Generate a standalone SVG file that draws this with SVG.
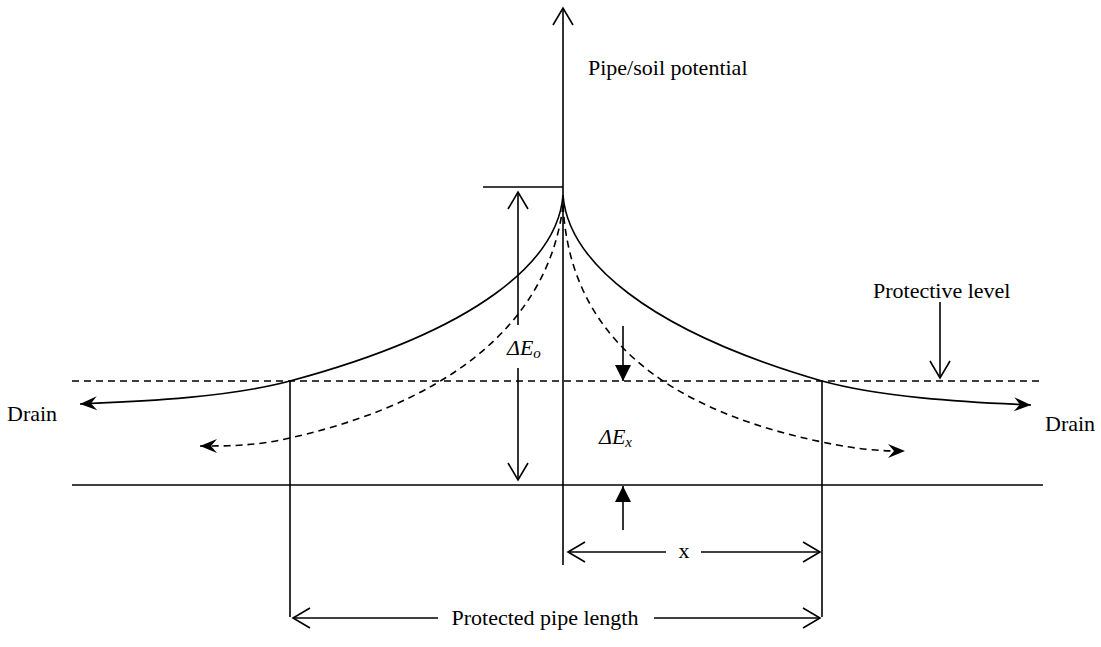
<svg xmlns="http://www.w3.org/2000/svg" width="1101" height="647" viewBox="0 0 1101 647">
<style>
.l{fill:none;stroke:#000;stroke-width:1.6}
.d{fill:none;stroke:#000;stroke-width:1.6;stroke-dasharray:7,5}
.t{font-family:"Liberation Serif",serif;font-size:22px;fill:#000}
.i{font-family:"Liberation Serif",serif;font-size:22px;font-style:italic;fill:#000}
</style>
<defs>
<marker id="open" markerUnits="userSpaceOnUse" markerWidth="24" markerHeight="24" viewBox="-20 -12 22 24" refX="0" refY="0" orient="auto-start-reverse">
<path d="M-17,-10 L0,0 L-17,10" fill="none" stroke="#000" stroke-width="1.6"/>
</marker>
<marker id="barb" markerUnits="userSpaceOnUse" markerWidth="24" markerHeight="24" viewBox="-20 -12 22 24" refX="0" refY="0" orient="auto">
<path d="M0,0 L-17,-7 L-11,0 L-17,7 Z" fill="#000"/>
</marker>
<marker id="tri" markerUnits="userSpaceOnUse" markerWidth="24" markerHeight="24" viewBox="-20 -12 22 24" refX="0" refY="0" orient="auto">
<path d="M0,0 L-16,-8 L-16,8 Z" fill="#000"/>
</marker>
</defs>
<g id="connectors">
<line class="l" x1="563" y1="565" x2="563" y2="8" marker-end="url(#open)"/>
<line class="l" x1="483" y1="187" x2="563" y2="187"/>
<line class="d" x1="72" y1="381" x2="1044" y2="381"/>
<line class="l" x1="72" y1="485" x2="1043" y2="485"/>
<line class="l" x1="290" y1="381" x2="290" y2="617"/>
<line class="l" x1="822" y1="381" x2="822" y2="617"/>
<line class="l" x1="518" y1="325" x2="518" y2="192" marker-end="url(#open)"/>
<line class="l" x1="518" y1="368" x2="518" y2="480" marker-end="url(#open)"/>
<line class="l" x1="623" y1="326" x2="623" y2="381" marker-end="url(#tri)"/>
<line class="l" x1="623" y1="530" x2="623" y2="486" marker-end="url(#tri)"/>
<line class="l" x1="940" y1="302" x2="940" y2="378" marker-end="url(#open)"/>
<line class="l" x1="666" y1="552" x2="568" y2="552" marker-end="url(#open)"/>
<line class="l" x1="701" y1="552" x2="820" y2="552" marker-end="url(#open)"/>
<line class="l" x1="438" y1="618" x2="293" y2="618" marker-end="url(#open)"/>
<line class="l" x1="654" y1="618" x2="820" y2="618" marker-end="url(#open)"/>
<path class="l" d="M563,195 C558,260 480,330 290,381 C230,397 150,401 80,404" marker-end="url(#barb)"/>
<path class="l" d="M563,195 C568,260 646,330 822,381 C880,397 960,402 1031,405" marker-end="url(#barb)"/>
<path class="d" d="M563,205 C552,300 480,395 290,438 C255,446 230,446 200,446" marker-end="url(#barb)"/>
<path class="d" d="M563,205 C568,300 620,400 822,442 C860,450 880,451 905,451" marker-end="url(#barb)"/>
</g>
<g id="label-axis"><text class="t" x="588" y="75">Pipe/soil potential</text></g>
<g id="label-protective"><text class="t" x="873" y="298">Protective level</text></g>
<g id="label-drain-left"><text class="t" x="7" y="421">Drain</text></g>
<g id="label-drain-right"><text class="t" x="1045" y="431">Drain</text></g>
<g id="label-dEo"><text class="i" x="507" y="355">ΔE<tspan font-size="15" dy="3">o</tspan></text></g>
<g id="label-dEx"><text class="i" x="599" y="444">ΔE<tspan font-size="15" dy="3">x</tspan></text></g>
<g id="label-x"><text class="t" x="684" y="558" text-anchor="middle">x</text></g>
<g id="label-length"><text class="t" x="545" y="625" text-anchor="middle">Protected pipe length</text></g>
</svg>
